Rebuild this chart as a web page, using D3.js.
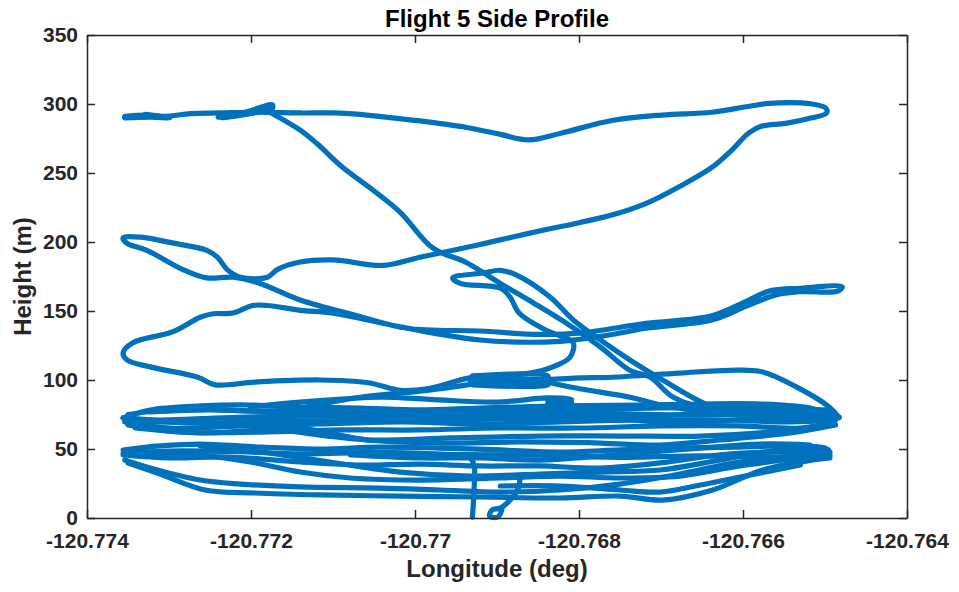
<!DOCTYPE html>
<html>
<head>
<meta charset="utf-8">
<script src="https://cdn.jsdelivr.net/npm/d3@7"></script>
<style>
    body { margin: 0; background: #fff; }
    svg text { font-family: "Liberation Sans", Arial, Helvetica, sans-serif; }
</style>
</head>
<body>
<div id="chart"></div>
<script>
// flight track as [longitude (deg), height (m)]
const loopPath = [
    [-120.77354, 291], [-120.77329, 292], [-120.77305, 291], [-120.77274, 293], [-120.77238, 293.5],
    [-120.77201, 294], [-120.77177, 294], [-120.77140, 293.5], [-120.77100, 293.5], [-120.77059, 292],
    [-120.76998, 288], [-120.76937, 283], [-120.76896, 278], [-120.76861, 274], [-120.76821, 279],
    [-120.76760, 288], [-120.76699, 292], [-120.76638, 294], [-120.76596, 298], [-120.76568, 300.5],
    [-120.76516, 300], [-120.76499, 297], [-120.76498, 293.5], [-120.76516, 290], [-120.76548, 286],
    [-120.76577, 284], [-120.76593, 279], [-120.76613, 267], [-120.76638, 254], [-120.76678, 240],
    [-120.76718, 228], [-120.76760, 219.5], [-120.76800, 214], [-120.76840, 209], [-120.76882, 203.5],
    [-120.76922, 198], [-120.76994, 189], [-120.77039, 183], [-120.77100, 187], [-120.77140, 185.5],
    [-120.77168, 180], [-120.77180, 174.5], [-120.77213, 174.5], [-120.77229, 180], [-120.77241, 189],
    [-120.77254, 194], [-120.77293, 199], [-120.77335, 203.5], [-120.77356, 203], [-120.77351, 199],
    [-120.77327, 194], [-120.77283, 180], [-120.77254, 174], [-120.77222, 174.5], [-120.77189, 170],
    [-120.77140, 158], [-120.77073, 147], [-120.77009, 137.5], [-120.76921, 135.5], [-120.76848, 133],
    [-120.76800, 134], [-120.76718, 141], [-120.76638, 146.5], [-120.76596, 157], [-120.76568, 164.5],
    [-120.76530, 166.5], [-120.76479, 167.5], [-120.76484, 164.5], [-120.76530, 164], [-120.76561, 161.5],
    [-120.76596, 153.5], [-120.76638, 143.5], [-120.76718, 137.5], [-120.76760, 133], [-120.76823, 128],
    [-120.76921, 129], [-120.77018, 138.5], [-120.77100, 148.5], [-120.77140, 150.5], [-120.77180, 154],
    [-120.77198, 154], [-120.77222, 148.5], [-120.77246, 148], [-120.77262, 145.5], [-120.77295, 135],
    [-120.77344, 127], [-120.77356, 119.5], [-120.77351, 114.5], [-120.77323, 109.5], [-120.77265, 102],
    [-120.77244, 96.5], [-120.77195, 98.5], [-120.77115, 100], [-120.77057, 98], [-120.77018, 92.5],
    [-120.76982, 94], [-120.76933, 101.5], [-120.76860, 105], [-120.76832, 109.5], [-120.76811, 116.5],
    [-120.76807, 127], [-120.76823, 132], [-120.76840, 136], [-120.76873, 148.5], [-120.76884, 160],
    [-120.76896, 166.5], [-120.76945, 170], [-120.76954, 174], [-120.76917, 177.5], [-120.76896, 179.5],
    [-120.76876, 176], [-120.76835, 160], [-120.76807, 143.5], [-120.76774, 129], [-120.76738, 114.5],
    [-120.76698, 100], [-120.76637, 80.5], [-120.76579, 74.5], [-120.76483, 73]
];

const topDiagonal = [
    [-120.77177, 294], [-120.77140, 281], [-120.77120, 271.5], [-120.77088, 254], [-120.77051, 237.5],
    [-120.77018, 221.5], [-120.76978, 195.5], [-120.76937, 185], [-120.76896, 170], [-120.76856, 156],
    [-120.76815, 141], [-120.76774, 124], [-120.76738, 107], [-120.76713, 102], [-120.76685, 87.5],
    [-120.76637, 78.5], [-120.76555, 77], [-120.76494, 78.5]
];

const topWedge = [
    [-120.77240, 290.5], [-120.77207, 294], [-120.77174, 299.5], [-120.77174, 297],
    [-120.77207, 292.5], [-120.77235, 290], [-120.77174, 295.5]
];

const topStart = [
    [-120.77354, 290], [-120.77323, 290.5], [-120.77299, 290], [-120.77329, 292.5]
];

const line100 = [
    [-120.76933, 99.5], [-120.76896, 100.5], [-120.76838, 100.5], [-120.76799, 101.5], [-120.76760, 102],
    [-120.76678, 105], [-120.76617, 107], [-120.76577, 106], [-120.76535, 95], [-120.76495, 80.5],
    [-120.76483, 73]
];

const hover100 = [
    [-120.76930, 103], [-120.76838, 103], [-120.76838, 100.5], [-120.76930, 100.5], [-120.76930, 98],
    [-120.76838, 98], [-120.76838, 96.5], [-120.76930, 96.5]
];

const line88 = [
    [-120.77201, 80.5], [-120.77140, 84], [-120.77043, 87.5], [-120.76982, 86], [-120.76900, 84],
    [-120.76839, 87], [-120.76809, 86], [-120.76838, 84.5], [-120.76809, 84], [-120.76838, 83]
];

const link90 = [
    [-120.77140, 79.5], [-120.77067, 87.5], [-120.76985, 92.5], [-120.76930, 97]
];

const down100 = [
    [-120.76835, 98], [-120.76802, 94], [-120.76738, 87.5], [-120.76689, 80.5], [-120.76628, 77]
];

// upper band, roughly 55-83 m
const bandA1 = [
    [-120.77356, 72.5], [-120.77323, 78.3], [-120.77262, 81.2], [-120.77201, 81.9], [-120.77140, 80.4],
    [-120.77067, 79.7], [-120.76994, 78.3], [-120.76921, 79.7], [-120.76823, 81.2], [-120.76726, 81.9],
    [-120.76652, 82.6], [-120.76579, 82.6], [-120.76518, 79.7], [-120.76483, 73.2]
];
const bandA2 = [
    [-120.77356, 72.5], [-120.77311, 71], [-120.77238, 72.5], [-120.77140, 73.9], [-120.77043, 72.5],
    [-120.76945, 73.9], [-120.76848, 75.4], [-120.76750, 75.4], [-120.76652, 74.6], [-120.76555, 75.4],
    [-120.76483, 72.5]
];
const bandA3 = [
    [-120.77354, 69.6], [-120.77299, 65.2], [-120.77213, 66.7], [-120.77116, 68.1], [-120.77018, 69.6],
    [-120.76921, 68.1], [-120.76823, 69.6], [-120.76726, 71], [-120.76628, 71], [-120.76543, 69.6],
    [-120.76487, 71]
];
const bandA4 = [
    [-120.77350, 67.4], [-120.77287, 62.3], [-120.77189, 62.3], [-120.77092, 63.8], [-120.76994, 63.8],
    [-120.76896, 65.2], [-120.76799, 65.2], [-120.76701, 66.7], [-120.76604, 66.7], [-120.76530, 65.2],
    [-120.76489, 69.6]
];
const bandA5 = [
    [-120.77341, 65.2], [-120.77262, 61.6], [-120.77171, 63.8], [-120.77116, 60.1], [-120.77057, 56.5],
    [-120.76957, 58], [-120.76848, 59.4], [-120.76750, 59.4], [-120.76652, 59.4], [-120.76567, 62.3],
    [-120.76494, 67.4]
];
const bandA6 = [
    [-120.77323, 76.8], [-120.77250, 78.3], [-120.77165, 76.8], [-120.77079, 75.4], [-120.76982, 76.8],
    [-120.76896, 78.3], [-120.76799, 78.3], [-120.76701, 79.7], [-120.76604, 80.4], [-120.76506, 78.3]
];
const bandA7 = [
    [-120.77213, 67.4], [-120.77140, 65.2], [-120.77057, 56.5], [-120.76970, 54.3], [-120.76872, 55.1],
    [-120.76774, 54.3], [-120.76701, 52.9], [-120.76628, 56.5], [-120.76543, 61.6], [-120.76487, 67.4]
];
const bandA8 = [
    [-120.77350, 75], [-120.77287, 79], [-120.77201, 77.5], [-120.77116, 78], [-120.77018, 75],
    [-120.76921, 76], [-120.76823, 73], [-120.76726, 73], [-120.76628, 77], [-120.76530, 77],
    [-120.76489, 74]
];
const bandA9 = [
    [-120.77341, 70], [-120.77250, 69], [-120.77165, 70.5], [-120.77067, 70], [-120.76970, 71],
    [-120.76872, 72], [-120.76774, 72.5], [-120.76677, 69], [-120.76579, 72], [-120.76494, 71]
];

// lower band, roughly 13-54 m
const bandB1 = [
    [-120.77356, 49.3], [-120.77311, 52.2], [-120.77262, 53.6], [-120.77189, 51.4], [-120.77116, 50],
    [-120.77043, 51.4], [-120.76970, 50.7], [-120.76896, 49.3], [-120.76823, 47.8], [-120.76750, 49.3],
    [-120.76677, 50.7], [-120.76604, 51.4], [-120.76543, 52.2], [-120.76500, 50.7], [-120.76494, 47.8]
];
const bandB2 = [
    [-120.77356, 45.7], [-120.77299, 43.5], [-120.77226, 44.2], [-120.77140, 40.6], [-120.77067, 38.4],
    [-120.76994, 39.1], [-120.76921, 37.7], [-120.76848, 37.7], [-120.76774, 36.2], [-120.76701, 39.9],
    [-120.76628, 45.7], [-120.76555, 47.8], [-120.76496, 45.7]
];
const bandB3 = [
    [-120.77354, 42], [-120.77323, 36.2], [-120.77262, 27.5], [-120.77213, 24.6], [-120.77140, 22.5],
    [-120.77043, 21.7], [-120.76970, 20.3], [-120.76896, 18.8], [-120.76823, 20.3], [-120.76750, 24.6],
    [-120.76677, 31.9], [-120.76604, 40.6], [-120.76530, 44.9], [-120.76494, 44.9]
];
const bandB4 = [
    [-120.77350, 39.9], [-120.77311, 31.9], [-120.77256, 20.3], [-120.77195, 18.1], [-120.77116, 16.7],
    [-120.77018, 15.9], [-120.76921, 15.2], [-120.76823, 14.5], [-120.76750, 15.9], [-120.76698, 13],
    [-120.76637, 20.3], [-120.76576, 34.8], [-120.76515, 42], [-120.76494, 43.5]
];
const bandB5 = [
    [-120.77335, 47.8], [-120.77262, 45.7], [-120.77201, 40.6], [-120.77140, 33.3], [-120.77079, 29],
    [-120.76994, 27.5], [-120.76896, 29], [-120.76823, 30.4], [-120.76750, 29], [-120.76677, 30.4],
    [-120.76604, 37.7], [-120.76530, 43.5]
];
const bandB6 = [
    [-120.77262, 52.2], [-120.77189, 47.8], [-120.77104, 40.6], [-120.77018, 33.3], [-120.76933, 30.4],
    [-120.76848, 31.9], [-120.76774, 33.3], [-120.76701, 34.8], [-120.76628, 42], [-120.76555, 49.3],
    [-120.76496, 49.3]
];
const bandB7 = [
    [-120.77079, 45.7], [-120.76994, 43.5], [-120.76921, 43.5], [-120.76848, 42], [-120.76774, 44.9],
    [-120.76713, 47.8], [-120.76652, 50.7], [-120.76579, 53.6], [-120.76518, 52.9]
];
const bandB8 = [
    [-120.76896, 23.2], [-120.76823, 23.2], [-120.76750, 20.3], [-120.76701, 18.8], [-120.76652, 23.9],
    [-120.76591, 31.2], [-120.76530, 38.4]
];
const bandB9 = [
    [-120.77356, 47], [-120.77299, 48.5], [-120.77213, 48], [-120.77140, 46.5], [-120.77043, 47.5],
    [-120.76945, 46], [-120.76848, 45.5], [-120.76750, 44], [-120.76652, 45], [-120.76555, 44],
    [-120.76494, 46]
];

// landing
const descent = [
    [-120.76951, 45.7], [-120.76933, 43.5], [-120.76928, 38.4], [-120.76928, 20.3], [-120.76930, 0.7]
];
const scribble = [
    [-120.76872, 29], [-120.76874, 21.7], [-120.76884, 13], [-120.76896, 7.2], [-120.76906, 5.8],
    [-120.76909, 1.4], [-120.76899, 0.7], [-120.76894, 5.8]
];

const xTicks = [-120.774, -120.772, -120.770, -120.768, -120.766, -120.764];
const yTicks = [0, 50, 100, 150, 200, 250, 300, 350];

const tracks = [
    loopPath, topDiagonal, topWedge, topStart, line100, hover100, line88, link90, down100,
    bandA1, bandA2, bandA3, bandA4, bandA5, bandA6, bandA7, bandA8, bandA9,
    bandB1, bandB2, bandB3, bandB4, bandB5, bandB6, bandB7, bandB8, bandB9,
    descent, scribble
];

const width = 959;
const height = 592;
const margin = {top: 35, right: 52, bottom: 74, left: 87};
const axisColor = '#262626';
const lineColor = '#0072BD';

const svg = d3.select('#chart').append('svg')
    .attr('width', width)
    .attr('height', height);

const x = d3.scaleLinear()
    .domain([-120.774, -120.764])
    .range([margin.left, width - margin.right]);

const y = d3.scaleLinear()
    .domain([0, 350])
    .range([height - margin.bottom, margin.top]);

const line = d3.line()
    .x(d => x(d[0]))
    .y(d => y(d[1]))
    .curve(d3.curveCatmullRom.alpha(0.5));

svg.append('g')
    .selectAll('path')
    .data(tracks)
    .join('path')
    .attr('d', line)
    .attr('fill', 'none')
    .attr('stroke', lineColor)
    .attr('stroke-width', 5.2)
    .attr('stroke-linejoin', 'round')
    .attr('stroke-linecap', 'round');

function styleAxis(g) {
    g.selectAll('.domain, .tick line')
        .attr('stroke', axisColor)
        .attr('stroke-width', 1.5);
    g.selectAll('text')
        .attr('fill', axisColor)
        .attr('font-size', 21)
        .attr('font-weight', 'bold');
    g.attr('font-family', null);
}

const xFormat = d => String(+d.toFixed(3));

svg.append('g')
    .attr('transform', `translate(0,${height - margin.bottom})`)
    .call(d3.axisBottom(x).tickValues(xTicks).tickFormat(xFormat)
        .tickSizeInner(-8).tickSizeOuter(0).tickPadding(15))
    .call(styleAxis);

svg.append('g')
    .attr('transform', `translate(0,${margin.top})`)
    .call(d3.axisTop(x).tickValues(xTicks).tickFormat('')
        .tickSizeInner(-8).tickSizeOuter(0))
    .call(styleAxis);

svg.append('g')
    .attr('transform', `translate(${margin.left},0)`)
    .call(d3.axisLeft(y).tickValues(yTicks)
        .tickSizeInner(-8).tickSizeOuter(0).tickPadding(9))
    .call(styleAxis);

svg.append('g')
    .attr('transform', `translate(${width - margin.right},0)`)
    .call(d3.axisRight(y).tickValues(yTicks).tickFormat('')
        .tickSizeInner(-8).tickSizeOuter(0))
    .call(styleAxis);

// labels
const midX = (x.range()[0] + x.range()[1]) / 2;
const midY = (y.range()[0] + y.range()[1]) / 2;

svg.append('text')
    .attr('x', midX)
    .attr('y', 27)
    .attr('text-anchor', 'middle')
    .attr('font-size', 24)
    .attr('font-weight', 'bold')
    .attr('fill', '#000')
    .text('Flight 5 Side Profile');

svg.append('text')
    .attr('x', midX)
    .attr('y', 577)
    .attr('text-anchor', 'middle')
    .attr('font-size', 24)
    .attr('font-weight', 'bold')
    .attr('fill', axisColor)
    .text('Longitude (deg)');

svg.append('text')
    .attr('transform', `translate(31,${midY}) rotate(-90)`)
    .attr('text-anchor', 'middle')
    .attr('font-size', 24)
    .attr('font-weight', 'bold')
    .attr('fill', axisColor)
    .text('Height (m)');
</script>
</body>
</html>
